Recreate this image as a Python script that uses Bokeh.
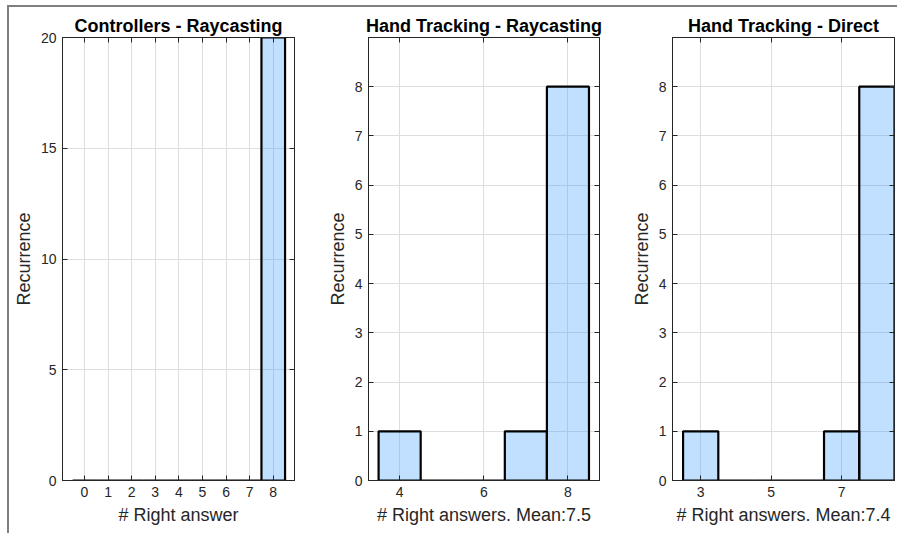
from bokeh.plotting import figure
from bokeh.layouts import row
from bokeh.models import LinearAxis, FixedTicker, Range1d, ColumnDataSource
from bokeh.embed import file_html
from bokeh.resources import INLINE

# ---- data ----
titles = ["Controllers - Raycasting", "Hand Tracking - Raycasting", "Hand Tracking - Direct"]
xlabels = ["# Right answer", "# Right answers. Mean:7.5", "# Right answers. Mean:7.4"]

ctrl_bins = [0, 1, 2, 3, 4, 5, 6, 7, 8]
ctrl_counts = [0, 0, 0, 0, 0, 0, 0, 0, 20]

htray_bins = [4, 5, 6, 7, 8]
htray_counts = [1, 0, 0, 1, 8]

htdir_bins = [3, 4, 5, 6, 7, 8]
htdir_counts = [1, 0, 0, 0, 1, 8]

ctrl_xticks = [0, 1, 2, 3, 4, 5, 6, 7, 8]
ctrl_yticks = [0, 5, 10, 15, 20]
htray_xticks = [4, 6, 8]
htdir_xticks = [3, 5, 7]
ht_yticks = [0, 1, 2, 3, 4, 5, 6, 7, 8]

FONT = "Liberation Sans"
AX = "#262626"


def make_panel(title, xlabel, bins, counts, xticks, yticks, xr, yr, width, bl, br):
    p = figure(width=width, height=526, output_backend="svg", toolbar_location=None,
               x_range=Range1d(*xr), y_range=Range1d(*yr),
               min_border_left=bl, min_border_right=br, min_border_top=30, min_border_bottom=53,
               x_axis_label=xlabel, y_axis_label="Recurrence")
    src = ColumnDataSource(dict(left=[b - 0.5 for b in bins], right=[b + 0.5 for b in bins],
                                top=counts, bottom=[0] * len(counts)))
    p.quad(left="left", right="right", top="top", bottom="bottom", source=src,
           fill_color="#3399ff", fill_alpha=0.3, line_color="black", line_width=2.2)

    p.title.text = title
    p.title.align = "center"
    p.title.text_font = FONT
    p.title.text_font_size = "18px"
    p.title.text_font_style = "bold"
    p.title.text_color = "black"
    p.title.standoff = 3

    p.outline_line_color = AX
    p.outline_line_width = 1

    p.xaxis.ticker = FixedTicker(ticks=xticks)
    p.yaxis.ticker = FixedTicker(ticks=yticks)
    p.xgrid.ticker = FixedTicker(ticks=xticks)
    p.ygrid.ticker = FixedTicker(ticks=yticks)
    p.grid.grid_line_color = "#dedede"
    p.grid.grid_line_width = 1

    for ax in [p.xaxis[0], p.yaxis[0]]:
        ax.axis_line_color = AX
        ax.major_tick_in = 5
        ax.major_tick_out = 0
        ax.minor_tick_line_color = None
        ax.major_tick_line_color = AX
        ax.major_label_text_font = FONT
        ax.major_label_text_font_size = "14px"
        ax.major_label_text_color = AX
        ax.axis_label_text_font = FONT
        ax.axis_label_text_font_size = "18px"
        ax.axis_label_text_font_style = "normal"
        ax.axis_label_text_color = AX
        ax.major_label_standoff = 6
    p.xaxis[0].axis_label_standoff = 5
    p.yaxis[0].axis_label_standoff = 4

    for loc, tk in [("right", yticks), ("above", xticks)]:
        a = LinearAxis(ticker=FixedTicker(ticks=tk))
        a.axis_line_color = AX
        a.major_tick_in = 5
        a.major_tick_out = 0
        a.minor_tick_line_color = None
        a.major_tick_line_color = AX
        a.major_label_overrides = {t: "" for t in tk}
        a.major_label_standoff = 0
        p.add_layout(a, loc)
    return p


p1 = make_panel(titles[0], xlabels[0], ctrl_bins, ctrl_counts, ctrl_xticks, ctrl_yticks,
                (-0.93, 8.9), (0, 20), 291, 53, 6)
p2 = make_panel(titles[1], xlabels[1], htray_bins, htray_counts, htray_xticks, ht_yticks,
                (3.26, 8.75), (0, 9), 305, 68, 6)
p3 = make_panel(titles[2], xlabels[2], htdir_bins, htdir_counts, htdir_xticks, ht_yticks,
                (2.2, 8.5), (0, 9), 292, 67, 3)

layout = row(p1, p2, p3, margin=(5, 0, 0, 7),
             styles={"border-top": "2px solid #7f7f7f", "border-left": "2px solid #7f7f7f"})

open("out.html", "w").write(file_html(layout, INLINE))
